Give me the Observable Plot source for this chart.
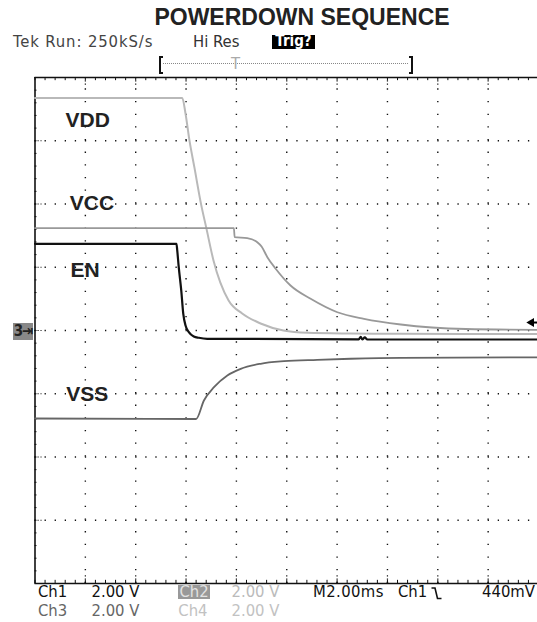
<!DOCTYPE html>
<html><head><meta charset="utf-8">
<script src="https://cdn.jsdelivr.net/npm/d3@7"></script>
<script src="https://cdn.jsdelivr.net/npm/@observablehq/plot@0.6"></script>
<style>
html,body{margin:0;padding:0;background:#fff;overflow:hidden;width:537px;height:622px}
#page{position:relative;width:537px;height:622px;overflow:hidden;background:#fff}
.a{position:absolute;line-height:1;white-space:nowrap}
.title{font-family:"Liberation Sans",Arial,sans-serif;font-weight:bold;font-size:23px;color:#222;left:2px;width:600px;text-align:center;top:5.5px}
.sc{font-family:"DejaVu Sans Condensed","DejaVu Sans",sans-serif;font-stretch:condensed;font-size:16.5px}
#chart{position:absolute;left:0;top:70px}
</style></head>
<body><div id="page">
<div class="a title">POWERDOWN SEQUENCE</div>
<span class="a sc" style="left:13px;top:34px;color:#444;letter-spacing:0.9px">Tek Run: 250kS/s</span>
<span class="a sc" style="left:193px;top:34px;color:#333">Hi Res</span>
<span class="a" style="left:272px;top:35px;width:43px;height:13.5px;background:#000"></span>
<span class="a sc" style="left:272px;top:34px;width:43px;color:#fff;text-align:center;font-weight:bold;font-size:15px;line-height:15px">Trig?</span>
<div class="a" style="left:158.5px;top:55.5px;width:2px;height:14px;border-left:2px solid #111;border-top:2px solid #111;border-bottom:2px solid #111"></div>
<div class="a" style="left:409px;top:55.5px;width:2px;height:14px;border-right:2px solid #111;border-top:2px solid #111;border-bottom:2px solid #111"></div>
<div class="a" style="left:163px;top:63px;width:245px;height:0;border-top:1px dotted #888"></div>
<span class="a sc" style="left:231px;top:56px;color:#aaa">T</span>
<div id="chart"></div>
<div class="a sc" style="left:13px;top:322.5px;width:20px;height:17px;background:#888;color:#222;font-size:15px;line-height:17px;font-weight:bold;text-align:center;letter-spacing:-1px">3⇥</div>
<span class="a sc" style="left:38px;top:584.3px;color:#111">Ch1</span>
<span class="a sc" style="left:91.5px;top:584.3px;color:#111">2.00 V</span>
<span class="a" style="left:178.3px;top:585px;width:31.7px;height:14.3px;background:#999"></span>
<span class="a sc" style="left:179.5px;top:584.3px;color:#e2e2e2">Ch2</span>
<span class="a sc" style="left:231.5px;top:584.3px;color:#bbb">2.00 V</span>
<span class="a sc" style="left:313px;top:584.3px;color:#111;letter-spacing:0.4px">M2.00ms</span>
<span class="a sc" style="left:398px;top:584.3px;color:#111">Ch1</span>
<svg class="a" style="left:431px;top:587px" width="11" height="13"><path d="M0.5 1 H4 L6.5 11.5 H10.5" fill="none" stroke="#111" stroke-width="1.6"/></svg>
<span class="a sc" style="left:482px;top:584.3px;color:#111">440mV</span>
<span class="a sc" style="left:38px;top:602.7px;color:#666">Ch3</span>
<span class="a sc" style="left:91.5px;top:602.7px;color:#666">2.00 V</span>
<span class="a sc" style="left:178.3px;top:602.7px;color:#c2c2c2">Ch4</span>
<span class="a sc" style="left:231.5px;top:602.7px;color:#c2c2c2">2.00 V</span>
</div>
<script>
// ---- data (time in ms, level in screen divisions; 2 ms/div, 2 V/div) ----
const vddT = [0, 5.85, 5.98, 6.14, 6.33, 6.60, 6.80, 7.09, 7.69, 8.23, 8.96, 9.87, 10.82, 12.54, 14.53, 20];
const vddV = [3.676, 3.676, 3.426, 2.993, 2.582, 1.99, 1.63, 1.107, 0.474, 0.269, 0.111, 0.0, -0.036, -0.047, -0.052, -0.055];

const vccT = [0, 7.90, 7.93, 8.43, 8.83, 9.00, 9.23, 9.56, 10.15, 10.95, 12.01, 13.07, 14.53, 17.11, 20];
const vccV = [1.619, 1.619, 1.478, 1.459, 1.396, 1.328, 1.159, 0.976, 0.711, 0.501, 0.289, 0.185, 0.095, 0.024, 0.011];

const enT = [0, 5.62, 5.65, 5.71, 5.81, 5.89, 5.98, 6.11, 6.31, 6.51, 6.84, 12.86, 12.94, 13.0, 13.1, 13.2, 20];
const enV = [1.371, 1.371, 1.265, 1.001, 0.632, 0.264, 0.079, -0.027, -0.095, -0.115, -0.131, -0.14, -0.10, -0.14, -0.11, -0.142, -0.142];

const vssT = [0, 6.40, 6.71, 7.11, 7.64, 8.17, 8.96, 9.89, 11.21, 12.54, 14.53, 20];
const vssV = [-1.391, -1.399, -1.107, -0.896, -0.711, -0.606, -0.526, -0.485, -0.463, -0.447, -0.432, -0.424];

const labelNames = ["VDD", "VCC", "EN", "VSS"];
const labelT = [1.21, 1.38, 1.41, 1.24];
const labelV = [3.21, 1.913, 0.838, -1.107];

const timeDomain = [0, 20];     // 10 div x 2 ms
const levelDomain = [-4, 4];    // 8 div
const triggerLevel = 0.126;

// ---- build ----
const X0 = 34.5, X1 = 538, YT = 7, YB = 513;
const minorX = (X1 - X0) / 50, minorY = (YB - YT) / 40;
const majorT = d3.range(2, 19, 2);
const majorV = d3.range(-3, 4, 1);
const minorT = d3.range(0, 20.001, 0.4);
const minorV = d3.range(-4, 4.001, 0.2);
const series = (T, V) => T.map((t, i) => ({t, v: V[i]}));
const labels = labelNames.map((n, i) => ({n, t: labelT[i], v: labelV[i]}));
const gridCol = "#111";

const chart = Plot.plot({
  width: 537, height: 518,
  style: {background: "transparent", overflow: "hidden"},
  x: {domain: timeDomain, range: [X0, X1], axis: null},
  y: {domain: levelDomain, range: [YB, YT], axis: null},
  marks: [
    Plot.ruleY(majorV, {x1: 0, x2: 20, stroke: gridCol, strokeWidth: 1.4, strokeDasharray: `1.3 ${minorX - 1.3}`}),
    Plot.ruleX(majorT, {y1: -4, y2: 4, stroke: gridCol, strokeWidth: 1.4, strokeDasharray: `1.3 ${minorY - 1.3}`}),
    // border minor ticks
    Plot.ruleX(minorT, {y1: 4, y2: 3.95, stroke: gridCol, strokeWidth: 1}),
    Plot.ruleX(minorT, {y1: -4, y2: -3.95, stroke: gridCol, strokeWidth: 1}),
    Plot.ruleY(minorV, {x1: 0, x2: 0.08, stroke: gridCol, strokeWidth: 1}),
    // border major ticks (dotted)
    Plot.ruleX(majorT, {y1: 4, y2: 3.86, stroke: gridCol, strokeWidth: 1.2, strokeDasharray: "1.2 2.1"}),
    Plot.ruleX(majorT, {y1: -4, y2: -3.84, stroke: gridCol, strokeWidth: 1.2, strokeDasharray: "1.2 2.1"}),
    Plot.ruleY(majorV, {x1: 0, x2: 0.28, stroke: gridCol, strokeWidth: 1.2, strokeDasharray: "1.2 1.8"}),
    // borders
    Plot.ruleX([0], {y1: -4, y2: 4, stroke: "#111", strokeWidth: 1.6}),
    Plot.ruleY([-4, 4], {x1: 0, x2: 20, stroke: "#111", strokeWidth: 1.6}),
    // traces
    Plot.line(series(vddT, vddV), {x: "t", y: "v", stroke: "#b9b9b9", strokeWidth: 2, curve: "monotone-x"}),
    Plot.line(series(vccT, vccV), {x: "t", y: "v", stroke: "#999", strokeWidth: 1.8, curve: "monotone-x"}),
    Plot.line(series(vssT, vssV), {x: "t", y: "v", stroke: "#666", strokeWidth: 1.8, curve: "monotone-x"}),
    Plot.line(series(enT, enV), {x: "t", y: "v", stroke: "#111", strokeWidth: 2.2, curve: "monotone-x"}),
    // trace labels
    Plot.text(labels, {x: "t", y: "v", text: "n", textAnchor: "start", lineAnchor: "bottom",
      fontSize: 21, fontWeight: "bold", fontFamily: "Liberation Sans, Arial, sans-serif", fill: "#222"}),
    // trigger level arrow
    Plot.ruleY([triggerLevel], {x1: 19.75, x2: 20, stroke: "#000", strokeWidth: 2}),
    Plot.dot([triggerLevel], {x: 19.72, y: d => d, symbol: "triangle", rotate: -90, r: 3.3, fill: "#000", stroke: "none"})
  ]
});
document.getElementById("chart").appendChild(chart);
</script>
</body></html>
